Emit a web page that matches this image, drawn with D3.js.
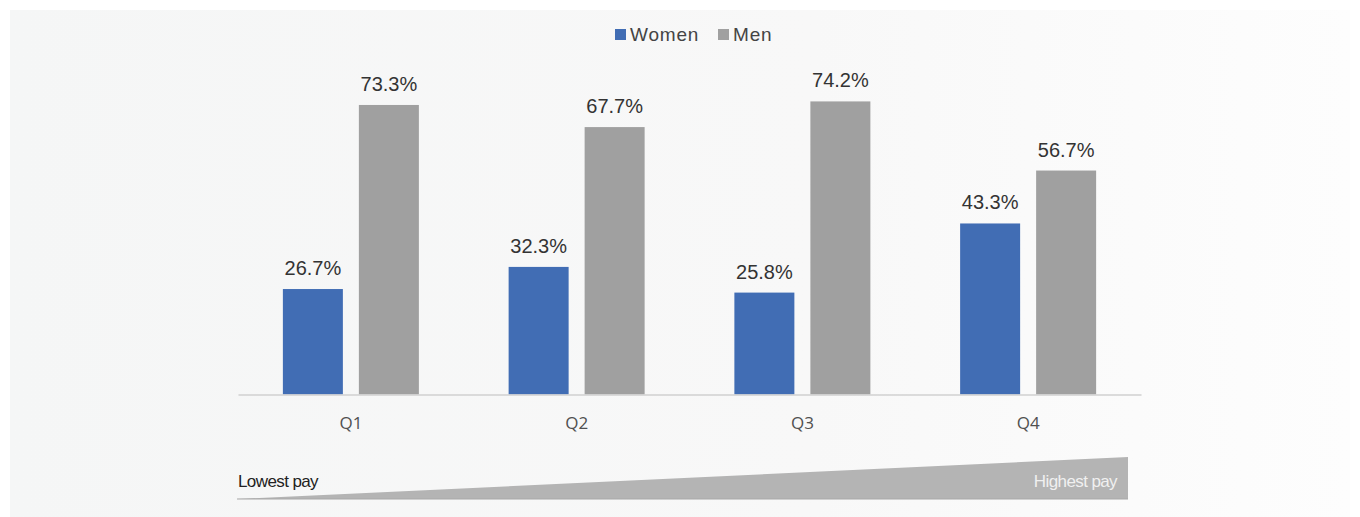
<!DOCTYPE html>
<html><head><meta charset="utf-8">
<script src="https://cdn.jsdelivr.net/npm/d3@7"></script>
<style>
html,body{margin:0;padding:0;background:#fff;}
svg{display:block;}
</style></head>
<body>
<script>
const categories = ["Q1", "Q2", "Q3", "Q4"];
const seriesNames = ["Women", "Men"];
const women = [26.7, 32.3, 25.8, 43.3];
const men = [73.3, 67.7, 74.2, 56.7];
const colors = ["#416db4", "#a0a0a0"];
const scaleLabels = ["Lowest pay", "Highest pay"];

const W = 1360, H = 517;
const svg = d3.select("body").append("svg").attr("width", W).attr("height", H);

const defs = svg.append("defs");
const grad = defs.append("linearGradient").attr("id", "bg").attr("x1", "0%").attr("y1", "0%").attr("x2", "100%").attr("y2", "0%");
grad.append("stop").attr("offset", "0%").attr("stop-color", "#f5f6f6");
grad.append("stop").attr("offset", "60%").attr("stop-color", "#f8f8f8");
grad.append("stop").attr("offset", "100%").attr("stop-color", "#fdfdfd");
svg.append("rect").attr("x", 10).attr("y", 10).attr("width", 1340).attr("height", 507).attr("fill", "url(#bg)");

const x0 = d3.scaleBand().domain(categories).range([238, 1141]).paddingInner(0).paddingOuter(0);
const y = d3.scaleLinear().domain([0, 80]).range([394.5, 78.5]);
const barW = 60, gap = 16;
const x1 = d3.scaleOrdinal().domain(seriesNames).range([-(barW + gap / 2), gap / 2]);

const data = categories.map((c, i) => ({ cat: c, vals: [ { s: "Women", v: women[i] }, { s: "Men", v: men[i] } ] }));

const g = svg.append("g");
const groups = g.selectAll("g.grp").data(data).join("g").attr("class", "grp")
  .attr("transform", d => `translate(${x0(d.cat) + x0.bandwidth() / 2},0)`);

groups.selectAll("rect").data(d => d.vals).join("rect")
  .attr("x", d => x1(d.s))
  .attr("y", d => y(d.v))
  .attr("width", barW)
  .attr("height", d => y(0) - y(d.v))
  .attr("fill", (d, i) => colors[i]);

groups.selectAll("text.val").data(d => d.vals).join("text").attr("class", "val")
  .attr("x", d => x1(d.s) + barW / 2)
  .attr("y", d => y(d.v) - 14)
  .attr("text-anchor", "middle")
  .attr("font-family", "Liberation Sans, Arial, sans-serif")
  .attr("font-size", 20)
  .attr("fill", "#333")
  .text(d => d.v.toFixed(1) + "%");

// axis
const axis = svg.append("g").attr("transform", `translate(0,${y(0)})`)
  .call(d3.axisBottom(x0).tickSize(0).tickPadding(22));
axis.select(".domain").attr("stroke", "#d0d0d0").attr("stroke-width", 1.5);
axis.selectAll("text").attr("font-family", "Open Sans, Liberation Sans, sans-serif").attr("font-size", 17).attr("fill", "#505050");

// legend
const legend = svg.append("g").attr("font-family", "Liberation Sans, Arial, sans-serif").attr("font-size", 19).attr("fill", "#444");
const legX = [615, 718];
seriesNames.forEach((s, i) => {
  legend.append("rect").attr("x", legX[i]).attr("y", 29).attr("width", 11).attr("height", 11).attr("fill", colors[i]);
  legend.append("text").attr("x", legX[i] + 15).attr("y", 41).attr("letter-spacing", 0.8).text(s);
});

// pay wedge
svg.append("path")
  .attr("d", "M237,499 L1128,457 L1128,499 Z")
  .attr("fill", "#b4b4b4");
svg.append("line").attr("x1", 237).attr("x2", 1128).attr("y1", 499).attr("y2", 499).attr("stroke", "#a8a8a8").attr("stroke-width", 1);
svg.append("text").attr("x", 238).attr("y", 487)
  .attr("font-family", "Liberation Sans Narrow, Arial Narrow, Liberation Sans, sans-serif")
  .attr("font-size", 17).attr("letter-spacing", -0.6).attr("fill", "#222").text(scaleLabels[0]);
svg.append("text").attr("x", 1117).attr("y", 487).attr("text-anchor", "end")
  .attr("font-family", "Liberation Sans Narrow, Arial Narrow, Liberation Sans, sans-serif")
  .attr("font-size", 17).attr("letter-spacing", -0.6).attr("fill", "#f0f0f0").text(scaleLabels[1]);
</script>
</body></html>
